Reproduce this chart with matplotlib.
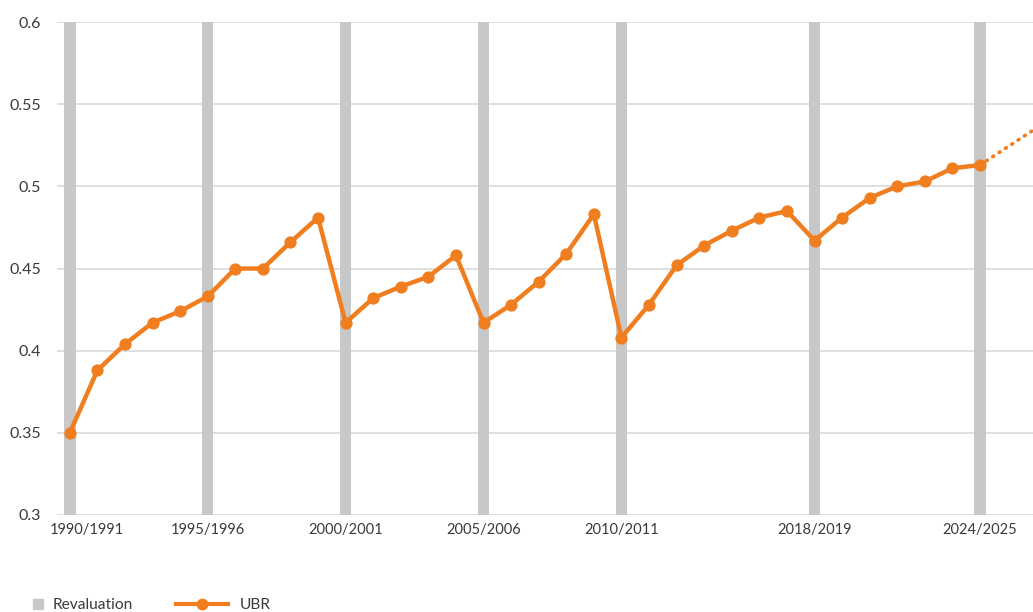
import numpy as np
import matplotlib
matplotlib.use("Agg")
import matplotlib.pyplot as plt
from matplotlib.lines import Line2D
import matplotlib.transforms as mtransforms

plt.rcParams['font.family'] = ['Lato', 'DejaVu Sans']

# UBR values, one per year from 1990/1991
ubr = [0.350, 0.388, 0.404, 0.417, 0.424, 0.433, 0.450, 0.450, 0.466, 0.481,
       0.417, 0.432, 0.439, 0.445, 0.458, 0.417, 0.428, 0.442, 0.459, 0.483,
       0.408, 0.428, 0.452, 0.464, 0.473, 0.481, 0.485, 0.467, 0.481, 0.493,
       0.500, 0.503, 0.511, 0.513]
# projected continuation (dotted)
proj_idx = [33, 34, 35]
proj_val = [0.513, 0.524, 0.535]

reval_idx = [0, 5, 10, 15, 20, 27, 33]
reval_labels = ['1990/1991', '1995/1996', '2000/2001', '2005/2006',
                '2010/2011', '2018/2019', '2024/2025']

orange = '#f07d1e'
grey_bar = '#c8c8c8'
text_col = '#3a3a3a'

fig = plt.figure(figsize=(10.33, 6.12), dpi=100)
ax = fig.add_axes([0.055, 0.1585, 0.945, 0.8055])

x = np.arange(len(ubr))

# revaluation bars spanning full height
ax.bar(reval_idx, [0.3] * len(reval_idx), bottom=0.3, width=0.42,
       color=grey_bar, zorder=2)

ax.plot(x, ubr, color=orange, lw=3.2, marker='o', markersize=7.8,
        solid_joinstyle='round', zorder=4, clip_on=False)
ax.plot(proj_idx, proj_val, color=orange, lw=2.6,
        linestyle=(0, (0.3, 1.8)), dash_capstyle='round', zorder=3)

ax.set_ylim(0.3, 0.6)
ax.set_xlim(-0.47, 34.92)
ax.set_yticks([0.3, 0.35, 0.4, 0.45, 0.5, 0.55, 0.6])
ax.set_yticklabels(['0.3', '0.35', '0.4', '0.45', '0.5', '0.55', '0.6'])
ax.set_xticks(reval_idx)
ax.set_xticklabels(reval_labels)

ax.grid(axis='y', color='#d6d6d6', lw=1.1, zorder=0)
ax.set_axisbelow(True)
for s in ax.spines.values():
    s.set_visible(False)
ax.tick_params(length=0, colors=text_col)
ax.tick_params(axis='y', labelsize=11.5, pad=11.5)
ax.tick_params(axis='x', labelsize=10.5, pad=6)

# shift first label right so it starts near the axis edge
first = ax.get_xticklabels()[0]
first.set_transform(first.get_transform() +
                    mtransforms.ScaledTranslation(17 / 100, 0, fig.dpi_scale_trans))

h_reval = Line2D([], [], color=grey_bar, marker='s', linestyle='none', markersize=7)
h_ubr = Line2D([], [], color=orange, lw=3, marker='o', markersize=7.5)
leg1 = fig.legend([h_reval], ['Revaluation'], loc='lower left',
                  bbox_to_anchor=(0.016, -0.023), frameon=False,
                  fontsize=11.2, labelcolor=text_col, handlelength=1.0,
                  handletextpad=0.45)
leg2 = fig.legend([h_ubr], ['UBR'], loc='lower left',
                  bbox_to_anchor=(0.157, -0.023), frameon=False,
                  fontsize=11.2, labelcolor=text_col, handlelength=3.3,
                  handletextpad=0.8)

fig.savefig('out.png', dpi=100)
